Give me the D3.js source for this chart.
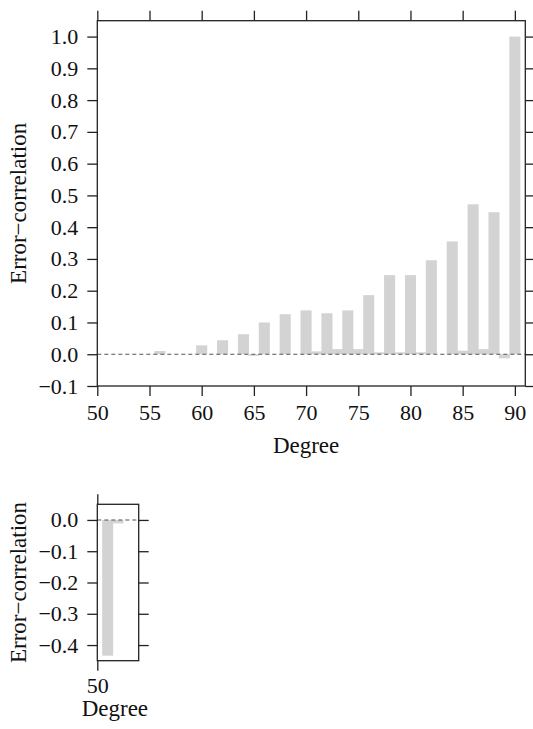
<!DOCTYPE html>
<html>
<head>
<meta charset="utf-8">
<script src="https://cdn.jsdelivr.net/npm/d3@7/dist/d3.min.js"></script>
<style>
  html, body { margin: 0; padding: 0; background: #fff; }
  svg { display: block; }
  text { font-family: "Liberation Serif", "Times New Roman", serif; fill: #111; }
</style>
</head>
<body>
<svg id="chart" width="533" height="729"></svg>
<script>
// ---- Data ----
const degrees = [50,51,52,53,54,55,56,57,58,59,60,61,62,63,64,65,66,67,68,69,70,
                 71,72,73,74,75,76,77,78,79,80,81,82,83,84,85,86,87,88,89,90];
const correlation = [0,0,0,0,0,0,0.010,0,0,0,0.028,0,0.044,0,0.063,-0.005,0.100,0,0.126,0,0.138,
                     0.009,0.129,0.016,0.138,0.016,0.186,0.006,0.249,0.006,0.249,0.006,0.296,0,0.355,0.011,0.472,0.016,0.447,-0.013,1.000];
const topXTicks = [50,55,60,65,70,75,80,85,90];
const topYTicks = [-0.1,0.0,0.1,0.2,0.3,0.4,0.5,0.6,0.7,0.8,0.9,1.0];

const bottomDegrees = [51,52];
const bottomCorrelation = [-0.434,-0.011];
const bottomXTicks = [50];
const bottomYTicks = [0.0,-0.1,-0.2,-0.3,-0.4];

const xLabel = "Degree";
const yLabel = "Error\u2212correlation";

// ---- Styles ----
const barColor = "#d3d3d3";
const axisColor = "#222";
const fmt = d3.format(".1f");
const tickFont = 22;
const labelFont = 23;
const barHalf = 0.53; // half bar width in degrees

const svg = d3.select("#chart");

function panel(cfg) {
  const x = d3.scaleLinear().domain(cfg.xDomain).range(cfg.xRange);
  const y = d3.scaleLinear().domain(cfg.yDomain).range(cfg.yRange);
  const g = svg.append("g");
  const [x0, x1] = cfg.xRange;
  const [y1, y0] = cfg.yRange; // y1 bottom, y0 top

  // bars
  g.append("g").selectAll("rect")
    .data(cfg.cats.map((d, i) => ({ d, v: cfg.vals[i] })).filter(o => o.v !== 0))
    .join("rect")
    .attr("x", o => x(o.d - barHalf))
    .attr("width", o => x(o.d + barHalf) - x(o.d - barHalf))
    .attr("y", o => y(Math.max(0, o.v)))
    .attr("height", o => Math.abs(y(o.v) - y(0)))
    .attr("fill", barColor);

  // zero reference line
  g.append("line")
    .attr("x1", x0).attr("x2", x1)
    .attr("y1", y(0)).attr("y2", y(0))
    .attr("stroke", "#555").attr("stroke-width", 1.1)
    .attr("stroke-dasharray", "4,3");

  // axes
  const left = g.append("g").attr("transform", `translate(${x0},0)`)
    .call(d3.axisLeft(y).tickValues(cfg.yTicks).tickFormat(fmt).tickSize(10).tickSizeOuter(0).tickPadding(9));
  const right = g.append("g").attr("transform", `translate(${x1},0)`)
    .call(d3.axisRight(y).tickValues(cfg.yTicks).tickFormat("").tickSize(10).tickSizeOuter(0));
  const bottom = g.append("g").attr("transform", `translate(0,${y1})`)
    .call(d3.axisBottom(x).tickValues(cfg.xTicks).tickFormat(d3.format("d")).tickSize(10).tickSizeOuter(0).tickPadding(cfg.xPad));
  const top = g.append("g").attr("transform", `translate(0,${y0})`)
    .call(d3.axisTop(x).tickValues(cfg.xTicks).tickFormat("").tickSize(10).tickSizeOuter(0));

  [left, right, bottom, top].forEach(a => {
    a.select(".domain").remove();
    a.selectAll(".tick line").attr("stroke", axisColor).attr("stroke-width", 1.3);
    a.selectAll(".tick text").attr("font-family", "Liberation Serif, serif")
      .attr("font-size", tickFont).attr("fill", "#111");
  });

  // frame
  g.append("rect")
    .attr("x", x0).attr("y", y0)
    .attr("width", x1 - x0).attr("height", y1 - y0)
    .attr("fill", "none").attr("stroke", axisColor).attr("stroke-width", 1.3);

  // axis titles
  g.append("text")
    .attr("x", x(cfg.xTitleAt)).attr("y", cfg.xTitleY)
    .attr("text-anchor", "middle").attr("font-size", labelFont)
    .text(xLabel);
  g.append("text")
    .attr("transform", `translate(${cfg.yTitleX},${(y0 + y1) / 2}) rotate(-90)`)
    .attr("text-anchor", "middle").attr("font-size", labelFont)
    .text(yLabel);
}

panel({
  cats: degrees, vals: correlation,
  xDomain: [50, 91], xRange: [97.3, 525.3],
  yDomain: [-0.1, 1.05], yRange: [386, 20.7],
  xTicks: topXTicks, yTicks: topYTicks,
  xPad: 8, xTitleAt: 70, xTitleY: 453, yTitleX: 26
});

panel({
  cats: bottomDegrees, vals: bottomCorrelation,
  xDomain: [50, 54], xRange: [97.3, 138.7],
  yDomain: [-0.45, 0.05], yRange: [660.7, 504.3],
  xTicks: bottomXTicks, yTicks: bottomYTicks,
  xPad: 7, xTitleAt: 51.7, xTitleY: 716, yTitleX: 26
});
</script>
</body>
</html>
